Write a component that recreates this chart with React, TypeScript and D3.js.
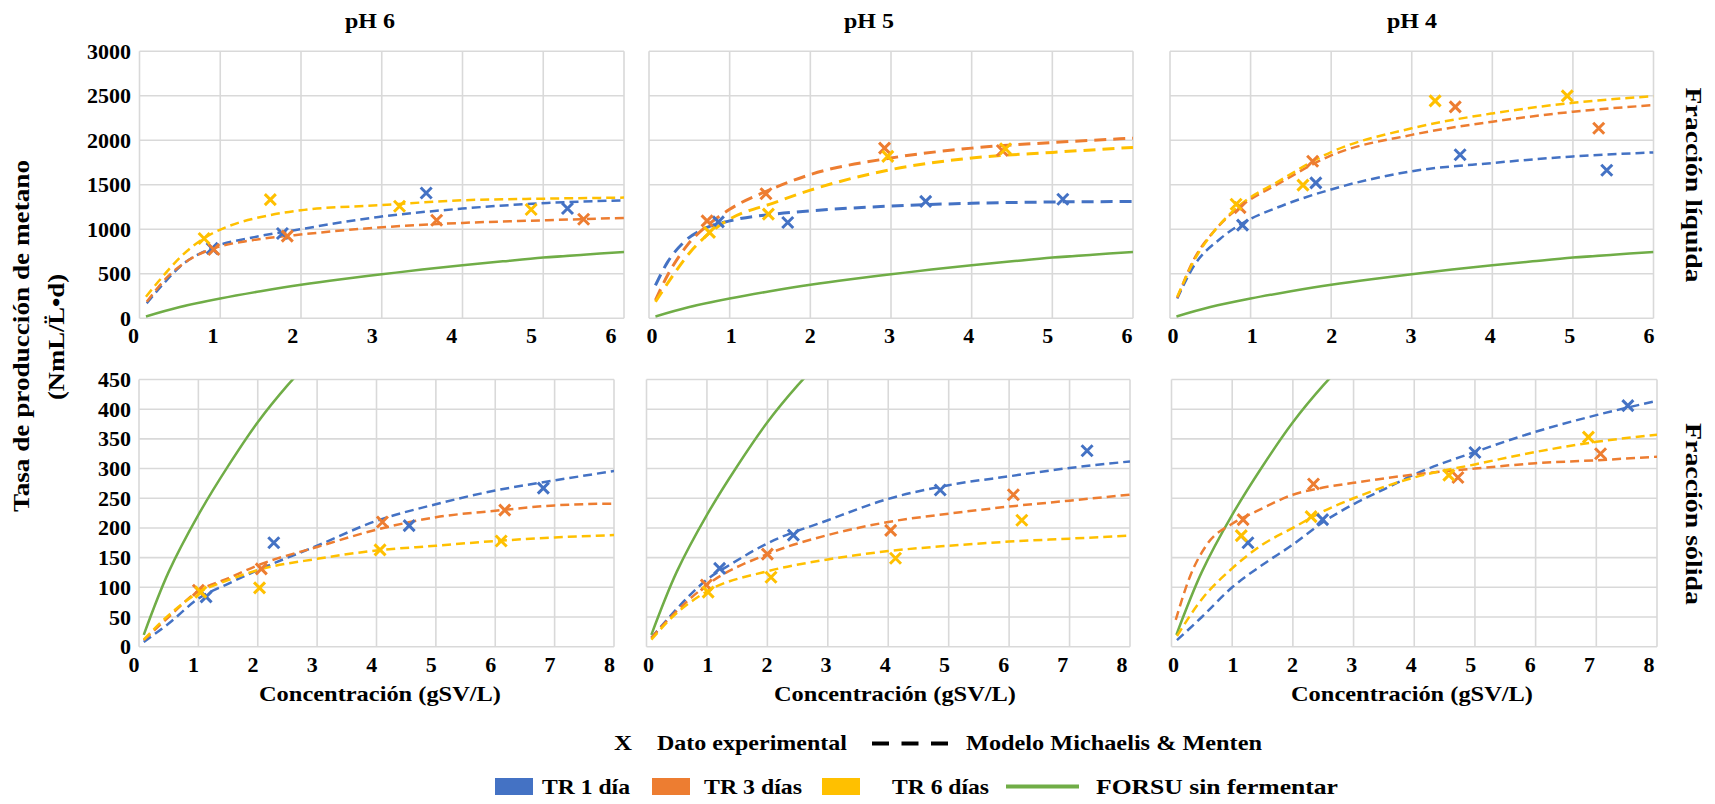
import React from 'react';
import * as d3 from 'd3';

type Pt = [number, number];

const FONT = '"Liberation Serif", "Times New Roman", serif';
const C_TR1 = '#4472C4';
const C_TR3 = '#ED7D31';
const C_TR6 = '#FFC000';
const C_FORSU = '#70AD47';

// ---------- categories / labels ----------
const phTitles = ['pH 6', 'pH 5', 'pH 4'];
const rowTitles = ['Fracción líquida', 'Fracción sólida'];
const xTicksLiq = [0, 1, 2, 3, 4, 5, 6];
const xTicksSol = [0, 1, 2, 3, 4, 5, 6, 7, 8];
const yTicksLiq = [0, 500, 1000, 1500, 2000, 2500, 3000];
const yTicksSol = [0, 50, 100, 150, 200, 250, 300, 350, 400, 450];

// ---------- FORSU sin fermentar (same curve in every panel) ----------
const forsu: Pt[] = [[0.08, 20], [0.5, 126], [1, 222], [1.5, 304], [2, 378], [2.5, 440], [3, 494], [3.5, 548], [4, 596], [4.5, 640], [5, 682], [5.5, 715], [6, 745]];

// ---------- Fracción líquida, pH 6 ----------
const liq6Exp1: Pt[] = [[0.90, 785], [1.77, 953], [3.55, 1408], [5.30, 1233]];
const liq6Exp3: Pt[] = [[0.92, 773], [1.83, 923], [3.68, 1102], [5.50, 1113]];
const liq6Exp6: Pt[] = [[0.80, 897], [1.62, 1334], [3.22, 1259], [4.85, 1222]];
const liq6Mod1: Pt[] = [[0.09, 168], [0.3, 392], [0.5, 579], [0.88, 785], [1.4, 908], [1.92, 990], [2.96, 1139], [4, 1233], [5.05, 1296], [6, 1326]];
const liq6Mod3: Pt[] = [[0.09, 187], [0.35, 467], [0.6, 650], [0.88, 773], [1.4, 878], [1.92, 934], [2.96, 1020], [4, 1072], [5.05, 1102], [6, 1128]];
const liq6Mod6: Pt[] = [[0.08, 243], [0.25, 430], [0.51, 691], [0.9, 953], [1.08, 1027], [1.61, 1158], [2, 1214], [2.96, 1270], [4, 1326], [5.05, 1345], [6, 1356]];

// ---------- Fracción líquida, pH 5 ----------
const liq5Exp1: Pt[] = [[0.86, 1084], [1.72, 1077], [3.43, 1314], [5.13, 1337]];
const liq5Exp3: Pt[] = [[0.72, 1095], [1.45, 1400], [2.92, 1912], [4.38, 1886]];
const liq5Exp6: Pt[] = [[0.75, 965], [1.48, 1170], [2.96, 1819], [4.42, 1905]];
const liq5Mod1: Pt[] = [[0.08, 371], [0.23, 631], [0.43, 854], [0.72, 1021], [1, 1095], [1.54, 1170], [2, 1207], [3, 1262], [4, 1292], [5, 1307], [6, 1312]];
const liq5Mod3: Pt[] = [[0.08, 204], [0.23, 483], [0.47, 817], [0.72, 1040], [1, 1225], [1.46, 1430], [2, 1615], [3, 1801], [4, 1912], [5, 1975], [6, 2024]];
const liq5Mod6: Pt[] = [[0.08, 186], [0.27, 446], [0.51, 743], [0.76, 965], [1, 1114], [1.54, 1295], [2, 1440], [3, 1671], [4, 1801], [5, 1864], [6, 1920]];

// ---------- Fracción líquida, pH 4 ----------
const liq4Exp1: Pt[] = [[0.90, 1047], [1.81, 1522], [3.60, 1838], [5.42, 1663]];
const liq4Exp3: Pt[] = [[0.87, 1244], [1.77, 1764], [3.54, 2376], [5.32, 2135]];
const liq4Exp6: Pt[] = [[0.82, 1281], [1.65, 1496], [3.29, 2443], [4.93, 2499]];
const liq4Mod1: Pt[] = [[0.09, 223], [0.3, 594], [0.62, 891], [0.93, 1084], [1.33, 1244], [2, 1448], [3, 1652], [4, 1745], [5, 1819], [6, 1864]];
const liq4Mod3: Pt[] = [[0.09, 230], [0.3, 668], [0.57, 1003], [0.88, 1262], [1.33, 1504], [2, 1830], [3, 2061], [4, 2209], [5, 2321], [6, 2395]];
const liq4Mod6: Pt[] = [[0.09, 241], [0.3, 650], [0.57, 1003], [0.88, 1281], [1.33, 1530], [2, 1868], [3, 2135], [4, 2302], [5, 2421], [6, 2495]];

// ---------- Fracción sólida, pH 6 ----------
const sol6Exp1: Pt[] = [[1.13, 84], [2.27, 175], [4.55, 204], [6.81, 267]];
const sol6Exp3: Pt[] = [[1.0, 95], [2.06, 131], [4.1, 210], [6.16, 230]];
const sol6Exp6: Pt[] = [[1.04, 92], [2.03, 99], [4.06, 163], [6.1, 178]];
const sol6Mod1: Pt[] = [[0.08, 8], [0.5, 39], [1, 81], [1.5, 106], [2, 129], [3, 170], [4, 212], [5, 240], [6, 263], [7, 280], [8, 296]];
const sol6Mod3: Pt[] = [[0.08, 11], [0.5, 50], [1, 94], [1.5, 115], [2, 137], [3, 168], [4, 197], [5, 218], [6, 229], [7, 238], [8, 241]];
const sol6Mod6: Pt[] = [[0.08, 12], [0.5, 53], [1, 91], [1.5, 112], [2, 129], [3, 148], [4, 162], [5, 170], [6, 178], [7, 184], [8, 188]];

// ---------- Fracción sólida, pH 5 ----------
const sol5Exp1: Pt[] = [[1.21, 132], [2.43, 188], [4.86, 264], [7.29, 330]];
const sol5Exp3: Pt[] = [[0.99, 104], [2.0, 156], [4.04, 196], [6.07, 256]];
const sol5Exp6: Pt[] = [[1.02, 92], [2.06, 117], [4.12, 149], [6.21, 213]];
const sol5Mod1: Pt[] = [[0.08, 15], [0.44, 57], [1, 113], [1.43, 141], [2, 174], [3, 213], [4, 249], [5, 272], [6, 287], [7, 301], [8, 312]];
const sol5Mod3: Pt[] = [[0.08, 15], [0.44, 54], [1, 104], [2, 156], [3, 188], [4, 210], [5, 224], [6, 236], [7, 246], [8, 256]];
const sol5Mod6: Pt[] = [[0.08, 12], [0.44, 51], [1, 93], [2, 127], [3, 147], [4, 161], [5, 170], [6, 177], [7, 182], [8, 187]];

// ---------- Fracción sólida, pH 4 ----------
const sol4Exp1: Pt[] = [[1.26, 175], [2.49, 214], [5.0, 327], [7.52, 406]];
const sol4Exp3: Pt[] = [[1.18, 214], [2.34, 274], [4.72, 285], [7.07, 325]];
const sol4Exp6: Pt[] = [[1.15, 187], [2.3, 219], [4.57, 289], [6.87, 353]];
const sol4Mod1: Pt[] = [[0.09, 11], [0.5, 50], [1, 100], [1.5, 138], [2, 172], [2.5, 210], [3, 240], [3.5, 265], [4, 290], [5, 328], [6, 362], [7, 390], [8, 414]];
const sol4Mod3: Pt[] = [[0.07, 45], [0.3, 117], [0.59, 173], [1, 207], [1.42, 229], [2, 256], [2.5, 268], [3, 276], [4, 290], [5, 300], [6, 309], [7, 314], [8, 320]];
const sol4Mod6: Pt[] = [[0.09, 18], [0.5, 80], [1, 132], [1.5, 172], [2, 200], [2.5, 228], [3, 250], [4, 285], [5, 307], [6, 328], [7, 345], [8, 357]];

// ---------- legend ----------
const legendSeries = ['TR 1 día', 'TR 3 días', 'TR 6 días'];
const legendColors = [C_TR1, C_TR3, C_TR6];

// ---------- layout (positions, not data) ----------
const ROWS = [
  { y0: 51.3, y1: 318.3, xMax: 6, yMax: 3000, xTicks: xTicksLiq, yTicks: yTicksLiq, labelBase: 343 },
  { y0: 379.5, y1: 646.7, xMax: 8, yMax: 450, xTicks: xTicksSol, yTicks: yTicksSol, labelBase: 672 },
];
const COLS = [
  [[139.5, 624], [649, 1133], [1170, 1653.5]],
  [[139, 614], [646.5, 1130], [1171.5, 1657]],
];
const LABEL_OFF = [
  [[-6, -13], [3, -6], [3, -4.5]],
  [[-5, -4.5], [2, -8], [2, -8]],
];
const TITLE_X = [370, 869, 1412];
const XTITLE_X = [380, 895, 1412];

const panelData = [
  [
    { exp: [liq6Exp1, liq6Exp3, liq6Exp6], mod: [liq6Mod1, liq6Mod3, liq6Mod6] },
    { exp: [liq5Exp1, liq5Exp3, liq5Exp6], mod: [liq5Mod1, liq5Mod3, liq5Mod6] },
    { exp: [liq4Exp1, liq4Exp3, liq4Exp6], mod: [liq4Mod1, liq4Mod3, liq4Mod6] },
  ],
  [
    { exp: [sol6Exp1, sol6Exp3, sol6Exp6], mod: [sol6Mod1, sol6Mod3, sol6Mod6] },
    { exp: [sol5Exp1, sol5Exp3, sol5Exp6], mod: [sol5Mod1, sol5Mod3, sol5Mod6] },
    { exp: [sol4Exp1, sol4Exp3, sol4Exp6], mod: [sol4Mod1, sol4Mod3, sol4Mod6] },
  ],
];

const SERIES_COLORS = [C_TR1, C_TR3, C_TR6];
const GRID = '#d9d9d9';

function Panel({ r, c }: { r: number; c: number }) {
  const row = ROWS[r];
  const [x0, x1] = COLS[r][c];
  const x = d3.scaleLinear().domain([0, row.xMax]).range([x0, x1]);
  const y = d3.scaleLinear().domain([0, row.yMax]).range([row.y1, row.y0]);
  const [oa, ob] = LABEL_OFF[r][c];
  const xl = d3.scaleLinear().domain([0, row.xMax]).range([x0 + oa, x1 + ob]);
  const line = d3.line<Pt>().x(d => x(d[0])).y(d => y(d[1])).curve(d3.curveMonotoneX);
  const smooth = d3.line<Pt>().x(d => x(d[0])).y(d => y(d[1])).curve(d3.curveCatmullRom.alpha(0.5));
  const data = panelData[r][c];
  const clipId = `clip-${r}-${c}`;
  const dash = r === 0 && c === 1 ? '12,7' : '9,5';
  const dashW = r === 0 && c === 1 ? 3 : 2.5;
  const m = 5.5;
  return (
    <g>
      <defs>
        <clipPath id={clipId}>
          <rect x={x0} y={row.y0} width={x1 - x0} height={row.y1 - row.y0} />
        </clipPath>
      </defs>
      {row.yTicks.map(t => (
        <line key={'h' + t} x1={x0} x2={x1} y1={y(t)} y2={y(t)} stroke={GRID} strokeWidth={1.6} />
      ))}
      {row.xTicks.map(t => (
        <line key={'v' + t} x1={x(t)} x2={x(t)} y1={row.y0} y2={row.y1} stroke={GRID} strokeWidth={1.6} />
      ))}
      <g clipPath={`url(#${clipId})`}>
        <path d={smooth(forsu) || ''} fill="none" stroke={C_FORSU} strokeWidth={2.5} />
        {data.mod.map((s, i) => (
          <path key={'m' + i} d={line(s) || ''} fill="none" stroke={SERIES_COLORS[i]} strokeWidth={dashW} strokeDasharray={dash} />
        ))}
      </g>
      {data.exp.map((s, i) =>
        s.map((p, j) => (
          <path
            key={'e' + i + '-' + j}
            d={`M${x(p[0]) - m},${y(p[1]) - m}L${x(p[0]) + m},${y(p[1]) + m}M${x(p[0]) - m},${y(p[1]) + m}L${x(p[0]) + m},${y(p[1]) - m}`}
            stroke={SERIES_COLORS[i]}
            strokeWidth={3}
            fill="none"
          />
        ))
      )}
      {row.xTicks.map(t => (
        <text key={'xl' + t} x={xl(t)} y={row.labelBase} textAnchor="middle" fontSize={22} fontWeight="bold" fontFamily={FONT}>
          {t}
        </text>
      ))}
      {c === 0 &&
        row.yTicks.map(t => (
          <text key={'yl' + t} x={131} y={y(t) + 7.5} textAnchor="end" fontSize={22} fontWeight="bold" fontFamily={FONT}>
            {t}
          </text>
        ))}
    </g>
  );
}

export default function App() {
  const txt = { fontFamily: FONT, fontWeight: 'bold' as const, fill: '#000' };
  return (
    <svg width={1715} height={804} style={{ position: 'absolute', left: 0, top: 0, background: '#fff' }}>
      <rect x={0} y={0} width={1715} height={804} fill="#fff" />
      {[0, 1].map(r => [0, 1, 2].map(c => <Panel key={r + '-' + c} r={r} c={c} />))}

      {phTitles.map((t, i) => (
        <text key={t} x={TITLE_X[i]} y={28} textAnchor="middle" fontSize={20} textLength={50} lengthAdjust="spacingAndGlyphs" {...txt}>
          {t}
        </text>
      ))}

      {XTITLE_X.map((cx, i) => (
        <text key={'xt' + i} x={cx} y={701} textAnchor="middle" fontSize={22} textLength={242} lengthAdjust="spacingAndGlyphs" {...txt}>
          Concentración (gSV/L)
        </text>
      ))}

      <g transform="translate(29,336) rotate(-90)">
        <text x={0} y={0} textAnchor="middle" fontSize={23} textLength={352} lengthAdjust="spacingAndGlyphs" {...txt}>
          Tasa de producción de metano
        </text>
      </g>
      <g transform="translate(64,337) rotate(-90)">
        <text x={0} y={0} textAnchor="middle" fontSize={23} textLength={126} lengthAdjust="spacingAndGlyphs" {...txt}>
          (NmL/L̈•d)
        </text>
      </g>

      <g transform="translate(1686,185) rotate(90)">
        <text x={0} y={0} textAnchor="middle" fontSize={23} textLength={195} lengthAdjust="spacingAndGlyphs" {...txt}>
          {rowTitles[0]}
        </text>
      </g>
      <g transform="translate(1686,514) rotate(90)">
        <text x={0} y={0} textAnchor="middle" fontSize={23} textLength={182} lengthAdjust="spacingAndGlyphs" {...txt}>
          {rowTitles[1]}
        </text>
      </g>

      {/* legend line 1 */}
      <text x={614} y={750} fontSize={22} textLength={18} lengthAdjust="spacingAndGlyphs" {...txt}>X</text>
      <text x={657} y={750} fontSize={22} textLength={190} lengthAdjust="spacingAndGlyphs" {...txt}>Dato experimental</text>
      <line x1={872} x2={948} y1={743.5} y2={743.5} stroke="#000" strokeWidth={4} strokeDasharray="17,12.5" />
      <text x={966} y={750} fontSize={22} textLength={296} lengthAdjust="spacingAndGlyphs" {...txt}>Modelo Michaelis &amp; Menten</text>

      {/* legend line 2 */}
      {legendSeries.map((s, i) => {
        const rx = [495, 652, 822][i];
        const tx = [542, 704, 892][i];
        const tl = [88, 98, 97][i];
        return (
          <g key={s}>
            <rect x={rx} y={778} width={38} height={17} fill={legendColors[i]} />
            <text x={tx} y={794} fontSize={22} textLength={tl} lengthAdjust="spacingAndGlyphs" {...txt}>{s}</text>
          </g>
        );
      })}
      <line x1={1006} x2={1079} y1={786.5} y2={786.5} stroke={C_FORSU} strokeWidth={4} />
      <text x={1096} y={794} fontSize={22} textLength={242} lengthAdjust="spacingAndGlyphs" {...txt}>FORSU sin fermentar</text>
    </svg>
  );
}
